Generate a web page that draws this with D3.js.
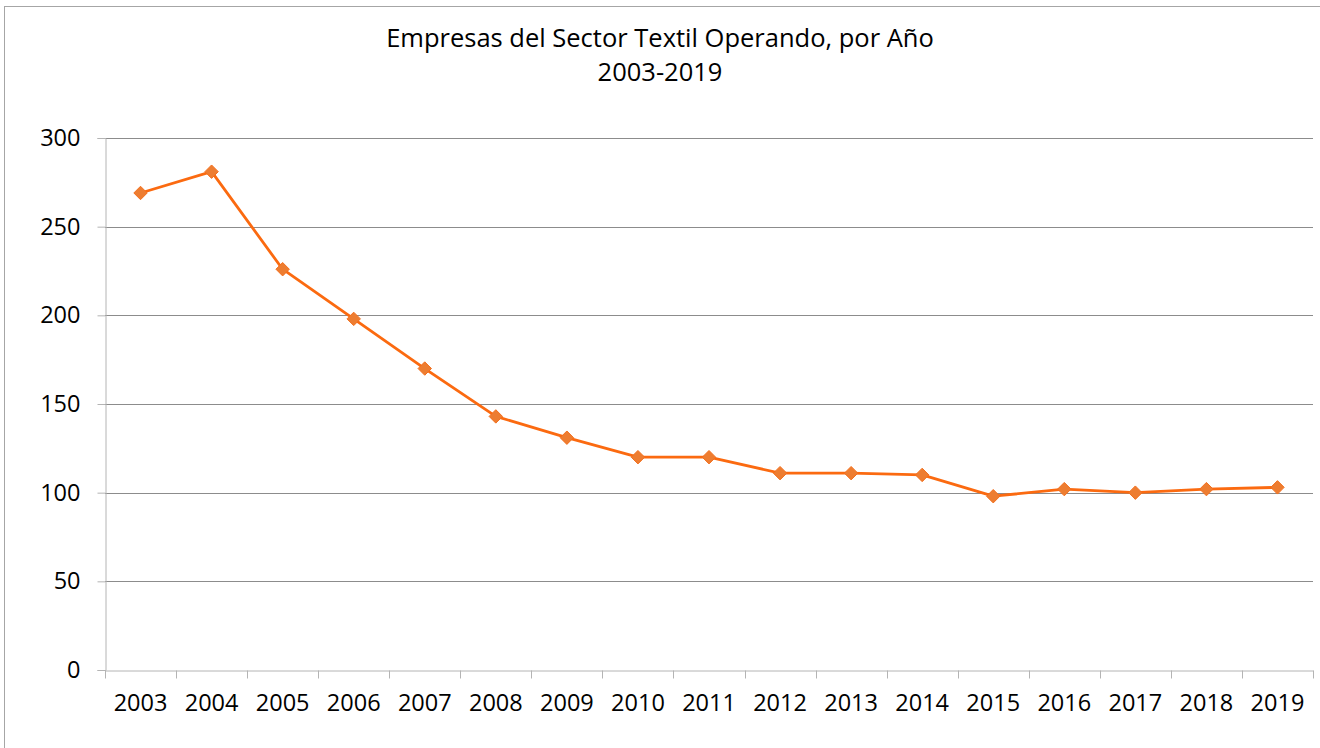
<!DOCTYPE html>
<html>
<head>
<meta charset="utf-8">
<script src="https://cdn.jsdelivr.net/npm/d3@7"></script>
<style>
  body { margin: 0; background: #fff; }
  #chart text { font-family: "Open Sans", sans-serif; fill: #000; }
</style>
</head>
<body>
<div id="chart"></div>
<script>
// Canvas size
var width = 1320;
var height = 748;

// Chart data
var years = ["2003", "2004", "2005", "2006", "2007", "2008", "2009", "2010", "2011",
             "2012", "2013", "2014", "2015", "2016", "2017", "2018", "2019"];
var empresas = [269, 281, 226, 198, 170, 143, 131, 120, 120, 111, 111, 110, 98, 102, 100, 102, 103];
var yTicks = [0, 50, 100, 150, 200, 250, 300];
var titleLines = ["Empresas del Sector Textil Operando, por Año", "2003-2019"];

var margin = { top: 138, right: 7, bottom: 78, left: 105 };

var svg = d3.select("#chart")
    .append("svg")
    .attr("width", width)
    .attr("height", height);

// outer chart border (runs off the right edge like the original)
svg.append("rect")
    .attr("x", 4.5)
    .attr("y", 6.5)
    .attr("width", 1330)
    .attr("height", 750)
    .attr("fill", "none")
    .attr("stroke", "#a6a6a6")
    .attr("stroke-width", 1);

var x = d3.scaleBand()
    .domain(years)
    .range([margin.left, width - margin.right]);

var y = d3.scaleLinear()
    .domain([0, 300])
    .range([height - margin.bottom, margin.top]);

// horizontal gridlines
svg.append("g")
    .selectAll("line")
    .data(yTicks.filter(function(d) { return d > 0; }))
    .enter()
    .append("line")
    .attr("x1", margin.left)
    .attr("x2", width - margin.right)
    .attr("y1", function(d) { return Math.round(y(d)) + 0.5; })
    .attr("y2", function(d) { return Math.round(y(d)) + 0.5; })
    .attr("stroke", "#8c8c8c")
    .attr("stroke-width", 1);

// y axis
var yAxis = svg.append("g")
    .attr("transform", "translate(" + (margin.left + 0.5) + ",0)")
    .call(d3.axisLeft(y).tickValues(yTicks).tickSize(8).tickPadding(17));
yAxis.selectAll("text").style("font-size", "23.5px");

// x axis with ticks at category boundaries
var xAxis = svg.append("g")
    .attr("transform", "translate(0," + (Math.round(y(0)) + 0.5) + ")")
    .call(d3.axisBottom(x).tickSize(0).tickPadding(24));
xAxis.selectAll("text").style("font-size", "23.5px");

xAxis.selectAll(".boundary")
    .data(years.concat(["end"]))
    .enter()
    .append("line")
    .attr("class", "boundary")
    .attr("x1", function(d, i) { return Math.round(margin.left + i * x.bandwidth()) + 0.5; })
    .attr("x2", function(d, i) { return Math.round(margin.left + i * x.bandwidth()) + 0.5; })
    .attr("y1", 0)
    .attr("y2", 8)
    .attr("stroke", "#b4b4b4");

svg.selectAll(".domain").attr("stroke", "#b4b4b4");
svg.selectAll(".tick line").attr("stroke", "#b4b4b4");

// line
var line = d3.line()
    .x(function(d, i) { return x(years[i]) + x.bandwidth() / 2; })
    .y(function(d) { return y(d); });

svg.append("path")
    .datum(empresas)
    .attr("d", line)
    .attr("fill", "none")
    .attr("stroke", "#fb6a10")
    .attr("stroke-width", 2.8)
    .attr("stroke-linejoin", "round");

// diamond markers
svg.append("g")
    .selectAll("path")
    .data(empresas)
    .enter()
    .append("path")
    .attr("d", d3.symbol().type(d3.symbolDiamond2).size(115))
    .attr("transform", function(d, i) {
        return "translate(" + (x(years[i]) + x.bandwidth() / 2) + "," + y(d) + ")";
    })
    .attr("fill", "#ed7d31")
    .attr("stroke", "#f46f1c")
    .attr("stroke-width", 1);

// title
svg.append("g")
    .selectAll("text")
    .data(titleLines)
    .enter()
    .append("text")
    .attr("x", 660)
    .attr("y", function(d, i) { return 47 + i * 34; })
    .attr("text-anchor", "middle")
    .style("font-size", "25.5px")
    .text(function(d) { return d; });
</script>
</body>
</html>
